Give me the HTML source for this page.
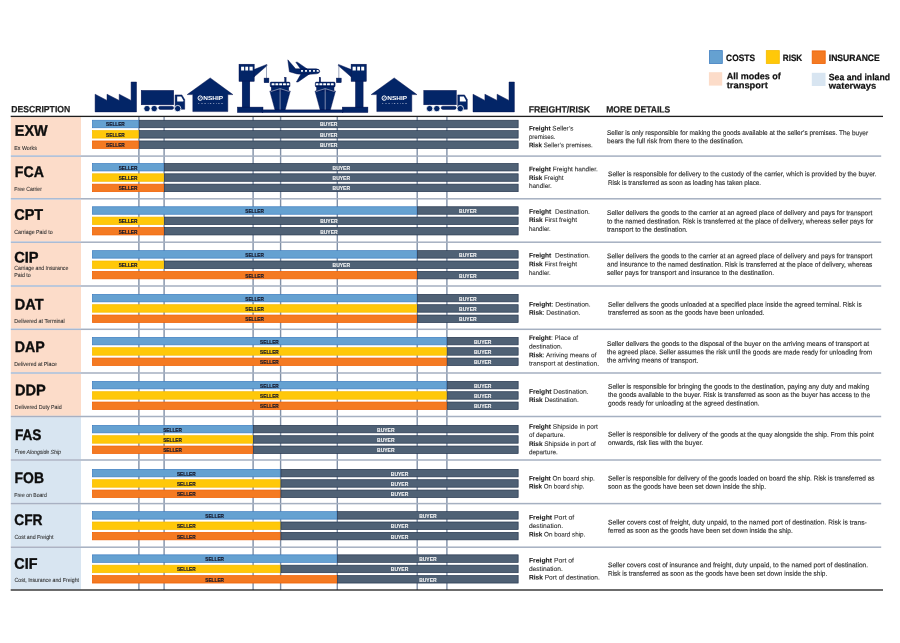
<!DOCTYPE html><html><head><meta charset="utf-8"><style>html,body{margin:0;padding:0;background:#fff;width:900px;height:643px;overflow:hidden}svg{display:block;will-change:transform}text{font-family:"Liberation Sans",sans-serif}</style></head><body>
<svg width="900" height="643" viewBox="0 0 900 643">
<rect width="900" height="643" fill="#fff" stroke="none"/>
<rect x="10.8" y="117.10" width="70.2" height="38.30" fill="#fcdcc9"/>
<rect x="10.8" y="156.80" width="70.2" height="41.30" fill="#fcdcc9"/>
<rect x="10.8" y="199.50" width="70.2" height="42.00" fill="#fcdcc9"/>
<rect x="10.8" y="242.90" width="70.2" height="42.40" fill="#fcdcc9"/>
<rect x="10.8" y="286.70" width="70.2" height="41.90" fill="#fcdcc9"/>
<rect x="10.8" y="330.00" width="70.2" height="42.30" fill="#fcdcc9"/>
<rect x="10.8" y="373.70" width="70.2" height="42.10" fill="#fcdcc9"/>
<rect x="10.8" y="417.20" width="70.2" height="42.10" fill="#d8e5f1"/>
<rect x="10.8" y="460.70" width="70.2" height="42.20" fill="#d8e5f1"/>
<rect x="10.8" y="504.30" width="70.2" height="42.20" fill="#d8e5f1"/>
<rect x="10.8" y="547.90" width="70.2" height="41.40" fill="#d8e5f1"/>
<rect x="138.20" y="116.40" width="1.4" height="473.60" fill="#8090a7"/>
<rect x="163.40" y="116.40" width="1.4" height="473.60" fill="#8090a7"/>
<rect x="252.40" y="116.40" width="1.4" height="473.60" fill="#8090a7"/>
<rect x="279.90" y="116.40" width="1.4" height="473.60" fill="#8090a7"/>
<rect x="336.60" y="116.40" width="1.4" height="473.60" fill="#8090a7"/>
<rect x="416.50" y="116.40" width="1.4" height="473.60" fill="#8090a7"/>
<rect x="446.20" y="116.40" width="1.4" height="473.60" fill="#8090a7"/>
<rect x="10.8" y="155.35" width="70.2" height="1.5" fill="#a6b9d3"/>
<rect x="81.0" y="155.35" width="800.2" height="1.5" fill="#a5b0c1"/>
<rect x="10.8" y="198.05" width="70.2" height="1.5" fill="#a6b9d3"/>
<rect x="81.0" y="198.05" width="800.2" height="1.5" fill="#a5b0c1"/>
<rect x="10.8" y="241.45" width="70.2" height="1.5" fill="#a6b9d3"/>
<rect x="81.0" y="241.45" width="800.2" height="1.5" fill="#a5b0c1"/>
<rect x="10.8" y="285.25" width="70.2" height="1.5" fill="#a6b9d3"/>
<rect x="81.0" y="285.25" width="800.2" height="1.5" fill="#a5b0c1"/>
<rect x="10.8" y="328.55" width="70.2" height="1.5" fill="#a6b9d3"/>
<rect x="81.0" y="328.55" width="800.2" height="1.5" fill="#a5b0c1"/>
<rect x="10.8" y="372.25" width="70.2" height="1.5" fill="#a6b9d3"/>
<rect x="81.0" y="372.25" width="800.2" height="1.5" fill="#a5b0c1"/>
<rect x="10.8" y="415.75" width="70.2" height="1.5" fill="#a8b0c2"/>
<rect x="81.0" y="415.75" width="800.2" height="1.5" fill="#a5b0c1"/>
<rect x="10.8" y="459.25" width="70.2" height="1.5" fill="#a8b0c2"/>
<rect x="81.0" y="459.25" width="800.2" height="1.5" fill="#a5b0c1"/>
<rect x="10.8" y="502.85" width="70.2" height="1.5" fill="#a8b0c2"/>
<rect x="81.0" y="502.85" width="800.2" height="1.5" fill="#a5b0c1"/>
<rect x="10.8" y="546.45" width="70.2" height="1.5" fill="#a8b0c2"/>
<rect x="81.0" y="546.45" width="800.2" height="1.5" fill="#a5b0c1"/>
<rect x="10.7" y="115.75" width="872.3" height="1.3" fill="#1e1e1e"/>
<rect x="10.7" y="589.35" width="872.3" height="1.3" fill="#1e1e1e"/>
<rect x="92.35" y="120.25" width="46.20" height="7.50" fill="#65a1d1" stroke="#3f7ec0" stroke-width="0.7"/>
<rect x="139.25" y="120.25" width="378.90" height="7.50" fill="#4f6175" stroke="#26374f" stroke-width="0.7"/>
<text x="106.10" y="126.40" font-size="5.6" stroke="#15172a" stroke-width="0.2" font-weight="bold" fill="#15172a" textLength="18.70" lengthAdjust="spacingAndGlyphs">SELLER</text>
<text x="319.95" y="126.40" font-size="5.6" stroke="#f4f4f4" stroke-width="0.12" font-weight="bold" fill="#f4f4f4" textLength="17.50" lengthAdjust="spacingAndGlyphs">BUYER</text>
<rect x="92.35" y="130.60" width="46.20" height="7.50" fill="#ffc809" stroke="#f6bb00" stroke-width="0.7"/>
<rect x="139.25" y="130.60" width="378.90" height="7.50" fill="#4f6175" stroke="#26374f" stroke-width="0.7"/>
<text x="106.10" y="136.75" font-size="5.6" stroke="#15172a" stroke-width="0.2" font-weight="bold" fill="#15172a" textLength="18.70" lengthAdjust="spacingAndGlyphs">SELLER</text>
<text x="319.95" y="136.75" font-size="5.6" stroke="#f4f4f4" stroke-width="0.12" font-weight="bold" fill="#f4f4f4" textLength="17.50" lengthAdjust="spacingAndGlyphs">BUYER</text>
<rect x="92.35" y="140.95" width="46.20" height="7.50" fill="#f47a22" stroke="#ef5f00" stroke-width="0.7"/>
<rect x="139.25" y="140.95" width="378.90" height="7.50" fill="#4f6175" stroke="#26374f" stroke-width="0.7"/>
<text x="106.10" y="147.10" font-size="5.6" stroke="#15172a" stroke-width="0.2" font-weight="bold" fill="#15172a" textLength="18.70" lengthAdjust="spacingAndGlyphs">SELLER</text>
<text x="319.95" y="147.10" font-size="5.6" stroke="#f4f4f4" stroke-width="0.12" font-weight="bold" fill="#f4f4f4" textLength="17.50" lengthAdjust="spacingAndGlyphs">BUYER</text>
<rect x="92.35" y="163.45" width="71.40" height="7.50" fill="#65a1d1" stroke="#3f7ec0" stroke-width="0.7"/>
<rect x="164.45" y="163.45" width="353.70" height="7.50" fill="#4f6175" stroke="#26374f" stroke-width="0.7"/>
<text x="118.70" y="169.60" font-size="5.6" stroke="#15172a" stroke-width="0.2" font-weight="bold" fill="#15172a" textLength="18.70" lengthAdjust="spacingAndGlyphs">SELLER</text>
<text x="332.55" y="169.60" font-size="5.6" stroke="#f4f4f4" stroke-width="0.12" font-weight="bold" fill="#f4f4f4" textLength="17.50" lengthAdjust="spacingAndGlyphs">BUYER</text>
<rect x="92.35" y="173.80" width="71.40" height="7.50" fill="#ffc809" stroke="#f6bb00" stroke-width="0.7"/>
<rect x="164.45" y="173.80" width="353.70" height="7.50" fill="#4f6175" stroke="#26374f" stroke-width="0.7"/>
<text x="118.70" y="179.95" font-size="5.6" stroke="#15172a" stroke-width="0.2" font-weight="bold" fill="#15172a" textLength="18.70" lengthAdjust="spacingAndGlyphs">SELLER</text>
<text x="332.55" y="179.95" font-size="5.6" stroke="#f4f4f4" stroke-width="0.12" font-weight="bold" fill="#f4f4f4" textLength="17.50" lengthAdjust="spacingAndGlyphs">BUYER</text>
<rect x="92.35" y="184.15" width="71.40" height="7.50" fill="#f47a22" stroke="#ef5f00" stroke-width="0.7"/>
<rect x="164.45" y="184.15" width="353.70" height="7.50" fill="#4f6175" stroke="#26374f" stroke-width="0.7"/>
<text x="118.70" y="190.30" font-size="5.6" stroke="#15172a" stroke-width="0.2" font-weight="bold" fill="#15172a" textLength="18.70" lengthAdjust="spacingAndGlyphs">SELLER</text>
<text x="332.55" y="190.30" font-size="5.6" stroke="#f4f4f4" stroke-width="0.12" font-weight="bold" fill="#f4f4f4" textLength="17.50" lengthAdjust="spacingAndGlyphs">BUYER</text>
<rect x="92.35" y="206.75" width="324.50" height="7.50" fill="#65a1d1" stroke="#3f7ec0" stroke-width="0.7"/>
<rect x="417.55" y="206.75" width="100.60" height="7.50" fill="#4f6175" stroke="#26374f" stroke-width="0.7"/>
<text x="245.25" y="212.90" font-size="5.6" stroke="#15172a" stroke-width="0.2" font-weight="bold" fill="#15172a" textLength="18.70" lengthAdjust="spacingAndGlyphs">SELLER</text>
<text x="459.10" y="212.90" font-size="5.6" stroke="#f4f4f4" stroke-width="0.12" font-weight="bold" fill="#f4f4f4" textLength="17.50" lengthAdjust="spacingAndGlyphs">BUYER</text>
<rect x="92.35" y="217.10" width="71.40" height="7.50" fill="#ffc809" stroke="#f6bb00" stroke-width="0.7"/>
<rect x="164.45" y="217.10" width="353.70" height="7.50" fill="#4f6175" stroke="#26374f" stroke-width="0.7"/>
<text x="118.70" y="223.25" font-size="5.6" stroke="#15172a" stroke-width="0.2" font-weight="bold" fill="#15172a" textLength="18.70" lengthAdjust="spacingAndGlyphs">SELLER</text>
<text x="320.15" y="223.25" font-size="5.6" stroke="#f4f4f4" stroke-width="0.12" font-weight="bold" fill="#f4f4f4" textLength="17.50" lengthAdjust="spacingAndGlyphs">BUYER</text>
<rect x="92.35" y="227.45" width="71.40" height="7.50" fill="#f47a22" stroke="#ef5f00" stroke-width="0.7"/>
<rect x="164.45" y="227.45" width="353.70" height="7.50" fill="#4f6175" stroke="#26374f" stroke-width="0.7"/>
<text x="118.70" y="233.60" font-size="5.6" stroke="#15172a" stroke-width="0.2" font-weight="bold" fill="#15172a" textLength="18.70" lengthAdjust="spacingAndGlyphs">SELLER</text>
<text x="320.15" y="233.60" font-size="5.6" stroke="#f4f4f4" stroke-width="0.12" font-weight="bold" fill="#f4f4f4" textLength="17.50" lengthAdjust="spacingAndGlyphs">BUYER</text>
<rect x="92.35" y="250.65" width="324.50" height="7.50" fill="#65a1d1" stroke="#3f7ec0" stroke-width="0.7"/>
<rect x="417.55" y="250.65" width="100.60" height="7.50" fill="#4f6175" stroke="#26374f" stroke-width="0.7"/>
<text x="245.25" y="256.80" font-size="5.6" stroke="#15172a" stroke-width="0.2" font-weight="bold" fill="#15172a" textLength="18.70" lengthAdjust="spacingAndGlyphs">SELLER</text>
<text x="459.10" y="256.80" font-size="5.6" stroke="#f4f4f4" stroke-width="0.12" font-weight="bold" fill="#f4f4f4" textLength="17.50" lengthAdjust="spacingAndGlyphs">BUYER</text>
<rect x="92.35" y="261.00" width="71.40" height="7.50" fill="#ffc809" stroke="#f6bb00" stroke-width="0.7"/>
<rect x="164.45" y="261.00" width="353.70" height="7.50" fill="#4f6175" stroke="#26374f" stroke-width="0.7"/>
<text x="118.70" y="267.15" font-size="5.6" stroke="#15172a" stroke-width="0.2" font-weight="bold" fill="#15172a" textLength="18.70" lengthAdjust="spacingAndGlyphs">SELLER</text>
<text x="332.55" y="267.15" font-size="5.6" stroke="#f4f4f4" stroke-width="0.12" font-weight="bold" fill="#f4f4f4" textLength="17.50" lengthAdjust="spacingAndGlyphs">BUYER</text>
<rect x="92.35" y="271.35" width="324.50" height="7.50" fill="#f47a22" stroke="#ef5f00" stroke-width="0.7"/>
<rect x="417.55" y="271.35" width="100.60" height="7.50" fill="#4f6175" stroke="#26374f" stroke-width="0.7"/>
<text x="245.25" y="277.50" font-size="5.6" stroke="#15172a" stroke-width="0.2" font-weight="bold" fill="#15172a" textLength="18.70" lengthAdjust="spacingAndGlyphs">SELLER</text>
<text x="459.10" y="277.50" font-size="5.6" stroke="#f4f4f4" stroke-width="0.12" font-weight="bold" fill="#f4f4f4" textLength="17.50" lengthAdjust="spacingAndGlyphs">BUYER</text>
<rect x="92.35" y="294.35" width="324.50" height="7.50" fill="#65a1d1" stroke="#3f7ec0" stroke-width="0.7"/>
<rect x="417.55" y="294.35" width="100.60" height="7.50" fill="#4f6175" stroke="#26374f" stroke-width="0.7"/>
<text x="245.25" y="300.50" font-size="5.6" stroke="#15172a" stroke-width="0.2" font-weight="bold" fill="#15172a" textLength="18.70" lengthAdjust="spacingAndGlyphs">SELLER</text>
<text x="459.10" y="300.50" font-size="5.6" stroke="#f4f4f4" stroke-width="0.12" font-weight="bold" fill="#f4f4f4" textLength="17.50" lengthAdjust="spacingAndGlyphs">BUYER</text>
<rect x="92.35" y="304.70" width="324.50" height="7.50" fill="#ffc809" stroke="#f6bb00" stroke-width="0.7"/>
<rect x="417.55" y="304.70" width="100.60" height="7.50" fill="#4f6175" stroke="#26374f" stroke-width="0.7"/>
<text x="245.25" y="310.85" font-size="5.6" stroke="#15172a" stroke-width="0.2" font-weight="bold" fill="#15172a" textLength="18.70" lengthAdjust="spacingAndGlyphs">SELLER</text>
<text x="459.10" y="310.85" font-size="5.6" stroke="#f4f4f4" stroke-width="0.12" font-weight="bold" fill="#f4f4f4" textLength="17.50" lengthAdjust="spacingAndGlyphs">BUYER</text>
<rect x="92.35" y="315.05" width="324.50" height="7.50" fill="#f47a22" stroke="#ef5f00" stroke-width="0.7"/>
<rect x="417.55" y="315.05" width="100.60" height="7.50" fill="#4f6175" stroke="#26374f" stroke-width="0.7"/>
<text x="245.25" y="321.20" font-size="5.6" stroke="#15172a" stroke-width="0.2" font-weight="bold" fill="#15172a" textLength="18.70" lengthAdjust="spacingAndGlyphs">SELLER</text>
<text x="459.10" y="321.20" font-size="5.6" stroke="#f4f4f4" stroke-width="0.12" font-weight="bold" fill="#f4f4f4" textLength="17.50" lengthAdjust="spacingAndGlyphs">BUYER</text>
<rect x="92.35" y="337.35" width="354.20" height="7.50" fill="#65a1d1" stroke="#3f7ec0" stroke-width="0.7"/>
<rect x="447.25" y="337.35" width="70.90" height="7.50" fill="#4f6175" stroke="#26374f" stroke-width="0.7"/>
<text x="260.10" y="343.50" font-size="5.6" stroke="#15172a" stroke-width="0.2" font-weight="bold" fill="#15172a" textLength="18.70" lengthAdjust="spacingAndGlyphs">SELLER</text>
<text x="473.95" y="343.50" font-size="5.6" stroke="#f4f4f4" stroke-width="0.12" font-weight="bold" fill="#f4f4f4" textLength="17.50" lengthAdjust="spacingAndGlyphs">BUYER</text>
<rect x="92.35" y="347.70" width="354.20" height="7.50" fill="#ffc809" stroke="#f6bb00" stroke-width="0.7"/>
<rect x="447.25" y="347.70" width="70.90" height="7.50" fill="#4f6175" stroke="#26374f" stroke-width="0.7"/>
<text x="260.10" y="353.85" font-size="5.6" stroke="#15172a" stroke-width="0.2" font-weight="bold" fill="#15172a" textLength="18.70" lengthAdjust="spacingAndGlyphs">SELLER</text>
<text x="473.95" y="353.85" font-size="5.6" stroke="#f4f4f4" stroke-width="0.12" font-weight="bold" fill="#f4f4f4" textLength="17.50" lengthAdjust="spacingAndGlyphs">BUYER</text>
<rect x="92.35" y="358.05" width="354.20" height="7.50" fill="#f47a22" stroke="#ef5f00" stroke-width="0.7"/>
<rect x="447.25" y="358.05" width="70.90" height="7.50" fill="#4f6175" stroke="#26374f" stroke-width="0.7"/>
<text x="260.10" y="364.20" font-size="5.6" stroke="#15172a" stroke-width="0.2" font-weight="bold" fill="#15172a" textLength="18.70" lengthAdjust="spacingAndGlyphs">SELLER</text>
<text x="473.95" y="364.20" font-size="5.6" stroke="#f4f4f4" stroke-width="0.12" font-weight="bold" fill="#f4f4f4" textLength="17.50" lengthAdjust="spacingAndGlyphs">BUYER</text>
<rect x="92.35" y="381.35" width="354.20" height="7.50" fill="#65a1d1" stroke="#3f7ec0" stroke-width="0.7"/>
<rect x="447.25" y="381.35" width="70.90" height="7.50" fill="#4f6175" stroke="#26374f" stroke-width="0.7"/>
<text x="260.10" y="387.50" font-size="5.6" stroke="#15172a" stroke-width="0.2" font-weight="bold" fill="#15172a" textLength="18.70" lengthAdjust="spacingAndGlyphs">SELLER</text>
<text x="473.95" y="387.50" font-size="5.6" stroke="#f4f4f4" stroke-width="0.12" font-weight="bold" fill="#f4f4f4" textLength="17.50" lengthAdjust="spacingAndGlyphs">BUYER</text>
<rect x="92.35" y="391.70" width="354.20" height="7.50" fill="#ffc809" stroke="#f6bb00" stroke-width="0.7"/>
<rect x="447.25" y="391.70" width="70.90" height="7.50" fill="#4f6175" stroke="#26374f" stroke-width="0.7"/>
<text x="260.10" y="397.85" font-size="5.6" stroke="#15172a" stroke-width="0.2" font-weight="bold" fill="#15172a" textLength="18.70" lengthAdjust="spacingAndGlyphs">SELLER</text>
<text x="473.95" y="397.85" font-size="5.6" stroke="#f4f4f4" stroke-width="0.12" font-weight="bold" fill="#f4f4f4" textLength="17.50" lengthAdjust="spacingAndGlyphs">BUYER</text>
<rect x="92.35" y="402.05" width="354.20" height="7.50" fill="#f47a22" stroke="#ef5f00" stroke-width="0.7"/>
<rect x="447.25" y="402.05" width="70.90" height="7.50" fill="#4f6175" stroke="#26374f" stroke-width="0.7"/>
<text x="260.10" y="408.20" font-size="5.6" stroke="#15172a" stroke-width="0.2" font-weight="bold" fill="#15172a" textLength="18.70" lengthAdjust="spacingAndGlyphs">SELLER</text>
<text x="473.95" y="408.20" font-size="5.6" stroke="#f4f4f4" stroke-width="0.12" font-weight="bold" fill="#f4f4f4" textLength="17.50" lengthAdjust="spacingAndGlyphs">BUYER</text>
<rect x="92.35" y="425.35" width="160.40" height="7.50" fill="#65a1d1" stroke="#3f7ec0" stroke-width="0.7"/>
<rect x="253.45" y="425.35" width="264.70" height="7.50" fill="#4f6175" stroke="#26374f" stroke-width="0.7"/>
<text x="163.20" y="431.50" font-size="5.6" stroke="#15172a" stroke-width="0.2" font-weight="bold" fill="#15172a" textLength="18.70" lengthAdjust="spacingAndGlyphs">SELLER</text>
<text x="377.05" y="431.50" font-size="5.6" stroke="#f4f4f4" stroke-width="0.12" font-weight="bold" fill="#f4f4f4" textLength="17.50" lengthAdjust="spacingAndGlyphs">BUYER</text>
<rect x="92.35" y="435.70" width="160.40" height="7.50" fill="#ffc809" stroke="#f6bb00" stroke-width="0.7"/>
<rect x="253.45" y="435.70" width="264.70" height="7.50" fill="#4f6175" stroke="#26374f" stroke-width="0.7"/>
<text x="163.20" y="441.85" font-size="5.6" stroke="#15172a" stroke-width="0.2" font-weight="bold" fill="#15172a" textLength="18.70" lengthAdjust="spacingAndGlyphs">SELLER</text>
<text x="377.05" y="441.85" font-size="5.6" stroke="#f4f4f4" stroke-width="0.12" font-weight="bold" fill="#f4f4f4" textLength="17.50" lengthAdjust="spacingAndGlyphs">BUYER</text>
<rect x="92.35" y="446.05" width="160.40" height="7.50" fill="#f47a22" stroke="#ef5f00" stroke-width="0.7"/>
<rect x="253.45" y="446.05" width="264.70" height="7.50" fill="#4f6175" stroke="#26374f" stroke-width="0.7"/>
<text x="163.20" y="452.20" font-size="5.6" stroke="#15172a" stroke-width="0.2" font-weight="bold" fill="#15172a" textLength="18.70" lengthAdjust="spacingAndGlyphs">SELLER</text>
<text x="377.05" y="452.20" font-size="5.6" stroke="#f4f4f4" stroke-width="0.12" font-weight="bold" fill="#f4f4f4" textLength="17.50" lengthAdjust="spacingAndGlyphs">BUYER</text>
<rect x="92.35" y="469.35" width="187.90" height="7.50" fill="#65a1d1" stroke="#3f7ec0" stroke-width="0.7"/>
<rect x="280.95" y="469.35" width="237.20" height="7.50" fill="#4f6175" stroke="#26374f" stroke-width="0.7"/>
<text x="176.95" y="475.50" font-size="5.6" stroke="#15172a" stroke-width="0.2" font-weight="bold" fill="#15172a" textLength="18.70" lengthAdjust="spacingAndGlyphs">SELLER</text>
<text x="390.80" y="475.50" font-size="5.6" stroke="#f4f4f4" stroke-width="0.12" font-weight="bold" fill="#f4f4f4" textLength="17.50" lengthAdjust="spacingAndGlyphs">BUYER</text>
<rect x="92.35" y="479.70" width="187.90" height="7.50" fill="#ffc809" stroke="#f6bb00" stroke-width="0.7"/>
<rect x="280.95" y="479.70" width="237.20" height="7.50" fill="#4f6175" stroke="#26374f" stroke-width="0.7"/>
<text x="176.95" y="485.85" font-size="5.6" stroke="#15172a" stroke-width="0.2" font-weight="bold" fill="#15172a" textLength="18.70" lengthAdjust="spacingAndGlyphs">SELLER</text>
<text x="390.80" y="485.85" font-size="5.6" stroke="#f4f4f4" stroke-width="0.12" font-weight="bold" fill="#f4f4f4" textLength="17.50" lengthAdjust="spacingAndGlyphs">BUYER</text>
<rect x="92.35" y="490.05" width="187.90" height="7.50" fill="#f47a22" stroke="#ef5f00" stroke-width="0.7"/>
<rect x="280.95" y="490.05" width="237.20" height="7.50" fill="#4f6175" stroke="#26374f" stroke-width="0.7"/>
<text x="176.95" y="496.20" font-size="5.6" stroke="#15172a" stroke-width="0.2" font-weight="bold" fill="#15172a" textLength="18.70" lengthAdjust="spacingAndGlyphs">SELLER</text>
<text x="390.80" y="496.20" font-size="5.6" stroke="#f4f4f4" stroke-width="0.12" font-weight="bold" fill="#f4f4f4" textLength="17.50" lengthAdjust="spacingAndGlyphs">BUYER</text>
<rect x="92.35" y="511.65" width="244.60" height="7.50" fill="#65a1d1" stroke="#3f7ec0" stroke-width="0.7"/>
<rect x="337.65" y="511.65" width="180.50" height="7.50" fill="#4f6175" stroke="#26374f" stroke-width="0.7"/>
<text x="205.30" y="517.80" font-size="5.6" stroke="#15172a" stroke-width="0.2" font-weight="bold" fill="#15172a" textLength="18.70" lengthAdjust="spacingAndGlyphs">SELLER</text>
<text x="419.15" y="517.80" font-size="5.6" stroke="#f4f4f4" stroke-width="0.12" font-weight="bold" fill="#f4f4f4" textLength="17.50" lengthAdjust="spacingAndGlyphs">BUYER</text>
<rect x="92.35" y="522.00" width="187.90" height="7.50" fill="#ffc809" stroke="#f6bb00" stroke-width="0.7"/>
<rect x="280.95" y="522.00" width="237.20" height="7.50" fill="#4f6175" stroke="#26374f" stroke-width="0.7"/>
<text x="176.95" y="528.15" font-size="5.6" stroke="#15172a" stroke-width="0.2" font-weight="bold" fill="#15172a" textLength="18.70" lengthAdjust="spacingAndGlyphs">SELLER</text>
<text x="390.80" y="528.15" font-size="5.6" stroke="#f4f4f4" stroke-width="0.12" font-weight="bold" fill="#f4f4f4" textLength="17.50" lengthAdjust="spacingAndGlyphs">BUYER</text>
<rect x="92.35" y="532.35" width="187.90" height="7.50" fill="#f47a22" stroke="#ef5f00" stroke-width="0.7"/>
<rect x="280.95" y="532.35" width="237.20" height="7.50" fill="#4f6175" stroke="#26374f" stroke-width="0.7"/>
<text x="176.95" y="538.50" font-size="5.6" stroke="#15172a" stroke-width="0.2" font-weight="bold" fill="#15172a" textLength="18.70" lengthAdjust="spacingAndGlyphs">SELLER</text>
<text x="390.80" y="538.50" font-size="5.6" stroke="#f4f4f4" stroke-width="0.12" font-weight="bold" fill="#f4f4f4" textLength="17.50" lengthAdjust="spacingAndGlyphs">BUYER</text>
<rect x="92.35" y="554.85" width="244.60" height="7.50" fill="#65a1d1" stroke="#3f7ec0" stroke-width="0.7"/>
<rect x="337.65" y="554.85" width="180.50" height="7.50" fill="#4f6175" stroke="#26374f" stroke-width="0.7"/>
<text x="205.30" y="561.00" font-size="5.6" stroke="#15172a" stroke-width="0.2" font-weight="bold" fill="#15172a" textLength="18.70" lengthAdjust="spacingAndGlyphs">SELLER</text>
<text x="419.15" y="561.00" font-size="5.6" stroke="#f4f4f4" stroke-width="0.12" font-weight="bold" fill="#f4f4f4" textLength="17.50" lengthAdjust="spacingAndGlyphs">BUYER</text>
<rect x="92.35" y="565.20" width="187.90" height="7.50" fill="#ffc809" stroke="#f6bb00" stroke-width="0.7"/>
<rect x="280.95" y="565.20" width="237.20" height="7.50" fill="#4f6175" stroke="#26374f" stroke-width="0.7"/>
<text x="176.95" y="571.35" font-size="5.6" stroke="#15172a" stroke-width="0.2" font-weight="bold" fill="#15172a" textLength="18.70" lengthAdjust="spacingAndGlyphs">SELLER</text>
<text x="390.80" y="571.35" font-size="5.6" stroke="#f4f4f4" stroke-width="0.12" font-weight="bold" fill="#f4f4f4" textLength="17.50" lengthAdjust="spacingAndGlyphs">BUYER</text>
<rect x="92.35" y="575.55" width="244.60" height="7.50" fill="#f47a22" stroke="#ef5f00" stroke-width="0.7"/>
<rect x="337.65" y="575.55" width="180.50" height="7.50" fill="#4f6175" stroke="#26374f" stroke-width="0.7"/>
<text x="205.30" y="581.70" font-size="5.6" stroke="#15172a" stroke-width="0.2" font-weight="bold" fill="#15172a" textLength="18.70" lengthAdjust="spacingAndGlyphs">SELLER</text>
<text x="419.15" y="581.70" font-size="5.6" stroke="#f4f4f4" stroke-width="0.12" font-weight="bold" fill="#f4f4f4" textLength="17.50" lengthAdjust="spacingAndGlyphs">BUYER</text>
<text x="11.25" y="112.30" font-size="9" transform="rotate(0.03,11.25,112.30)" stroke="#1e1e1e" stroke-width="0.2" font-weight="bold" fill="#1e1e1e" textLength="59.00" lengthAdjust="spacingAndGlyphs">DESCRIPTION</text>
<text x="528.70" y="112.50" font-size="9" transform="rotate(0.03,528.70,112.50)" stroke="#1e1e1e" stroke-width="0.2" font-weight="bold" fill="#1e1e1e" textLength="61.30" lengthAdjust="spacingAndGlyphs">FREIGHT/RISK</text>
<text x="606.20" y="112.50" font-size="9" transform="rotate(0.03,606.20,112.50)" stroke="#1e1e1e" stroke-width="0.2" font-weight="bold" fill="#1e1e1e" textLength="64.10" lengthAdjust="spacingAndGlyphs">MORE DETAILS</text>
<text x="14.80" y="135.70" font-size="15.3" transform="rotate(0.03,14.80,135.70)" stroke="#0d0d0d" stroke-width="0.35" font-weight="bold" fill="#0d0d0d" textLength="32.90" lengthAdjust="spacingAndGlyphs">EXW</text>
<text x="14.80" y="176.70" font-size="15.3" transform="rotate(0.03,14.80,176.70)" stroke="#0d0d0d" stroke-width="0.35" font-weight="bold" fill="#0d0d0d" textLength="29.10" lengthAdjust="spacingAndGlyphs">FCA</text>
<text x="14.30" y="219.80" font-size="15.3" transform="rotate(0.03,14.30,219.80)" stroke="#0d0d0d" stroke-width="0.35" font-weight="bold" fill="#0d0d0d" textLength="28.90" lengthAdjust="spacingAndGlyphs">CPT</text>
<text x="14.30" y="262.60" font-size="15.3" transform="rotate(0.03,14.30,262.60)" stroke="#0d0d0d" stroke-width="0.35" font-weight="bold" fill="#0d0d0d" textLength="24.30" lengthAdjust="spacingAndGlyphs">CIP</text>
<text x="14.80" y="309.60" font-size="15.3" transform="rotate(0.03,14.80,309.60)" stroke="#0d0d0d" stroke-width="0.35" font-weight="bold" fill="#0d0d0d" textLength="28.80" lengthAdjust="spacingAndGlyphs">DAT</text>
<text x="14.80" y="352.20" font-size="15.3" transform="rotate(0.03,14.80,352.20)" stroke="#0d0d0d" stroke-width="0.35" font-weight="bold" fill="#0d0d0d" textLength="30.00" lengthAdjust="spacingAndGlyphs">DAP</text>
<text x="14.90" y="395.20" font-size="15.3" transform="rotate(0.03,14.90,395.20)" stroke="#0d0d0d" stroke-width="0.35" font-weight="bold" fill="#0d0d0d" textLength="30.80" lengthAdjust="spacingAndGlyphs">DDP</text>
<text x="14.90" y="439.90" font-size="15.3" transform="rotate(0.03,14.90,439.90)" stroke="#0d0d0d" stroke-width="0.35" font-weight="bold" fill="#0d0d0d" textLength="26.60" lengthAdjust="spacingAndGlyphs">FAS</text>
<text x="14.60" y="482.90" font-size="15.3" transform="rotate(0.03,14.60,482.90)" stroke="#0d0d0d" stroke-width="0.35" font-weight="bold" fill="#0d0d0d" textLength="29.40" lengthAdjust="spacingAndGlyphs">FOB</text>
<text x="14.30" y="525.00" font-size="15.3" transform="rotate(0.03,14.30,525.00)" stroke="#0d0d0d" stroke-width="0.35" font-weight="bold" fill="#0d0d0d" textLength="28.20" lengthAdjust="spacingAndGlyphs">CFR</text>
<text x="14.30" y="568.80" font-size="15.3" transform="rotate(0.03,14.30,568.80)" stroke="#0d0d0d" stroke-width="0.35" font-weight="bold" fill="#0d0d0d" textLength="23.10" lengthAdjust="spacingAndGlyphs">CIF</text>
<text x="14.30" y="149.70" font-size="5.9" transform="rotate(0.03,14.30,149.70)" stroke="#2e2e2e" stroke-width="0.08" fill="#2e2e2e" textLength="22.50" lengthAdjust="spacingAndGlyphs">Ex Works</text>
<text x="14.30" y="190.50" font-size="5.9" transform="rotate(0.03,14.30,190.50)" stroke="#2e2e2e" stroke-width="0.08" fill="#2e2e2e" textLength="27.60" lengthAdjust="spacingAndGlyphs">Free Carrier</text>
<text x="14.30" y="233.60" font-size="5.9" transform="rotate(0.03,14.30,233.60)" stroke="#2e2e2e" stroke-width="0.08" fill="#2e2e2e" textLength="38.30" lengthAdjust="spacingAndGlyphs">Carriage Paid to</text>
<text x="14.30" y="270.40" font-size="5.9" transform="rotate(0.03,14.30,270.40)" stroke="#2e2e2e" stroke-width="0.08" fill="#2e2e2e" textLength="54.00" lengthAdjust="spacingAndGlyphs">Carriage and Insurance</text>
<text x="14.30" y="277.10" font-size="5.9" transform="rotate(0.03,14.30,277.10)" stroke="#2e2e2e" stroke-width="0.08" fill="#2e2e2e" textLength="16.50" lengthAdjust="spacingAndGlyphs">Paid to</text>
<text x="14.30" y="323.20" font-size="5.9" transform="rotate(0.03,14.30,323.20)" stroke="#2e2e2e" stroke-width="0.08" fill="#2e2e2e" textLength="50.50" lengthAdjust="spacingAndGlyphs">Delivered at Terminal</text>
<text x="14.30" y="366.20" font-size="5.9" transform="rotate(0.03,14.30,366.20)" stroke="#2e2e2e" stroke-width="0.08" fill="#2e2e2e" textLength="42.70" lengthAdjust="spacingAndGlyphs">Delivered at Place</text>
<text x="14.80" y="409.00" font-size="5.9" transform="rotate(0.03,14.80,409.00)" stroke="#2e2e2e" stroke-width="0.08" fill="#2e2e2e" textLength="46.90" lengthAdjust="spacingAndGlyphs">Delivered Duty Paid</text>
<text x="14.80" y="453.50" font-size="5.9" transform="rotate(0.03,14.80,453.50)" stroke="#2e2e2e" stroke-width="0.08" fill="#2e2e2e" textLength="46.10" lengthAdjust="spacingAndGlyphs" font-style="italic">Free Alongside Ship</text>
<text x="14.30" y="496.80" font-size="5.9" transform="rotate(0.03,14.30,496.80)" stroke="#2e2e2e" stroke-width="0.08" fill="#2e2e2e" textLength="32.60" lengthAdjust="spacingAndGlyphs">Free on Board</text>
<text x="14.50" y="538.60" font-size="5.9" transform="rotate(0.03,14.50,538.60)" stroke="#2e2e2e" stroke-width="0.08" fill="#2e2e2e" textLength="39.00" lengthAdjust="spacingAndGlyphs">Cost and Freight</text>
<text x="14.50" y="582.20" font-size="5.9" transform="rotate(0.03,14.50,582.20)" stroke="#2e2e2e" stroke-width="0.08" fill="#2e2e2e" textLength="64.50" lengthAdjust="spacingAndGlyphs">Cost, Insurance and Freight</text>
<text x="528.90" y="130.40" transform="rotate(0.03,528.90,130.40)" font-size="6.6" fill="#2a2a2a" stroke="#2a2a2a" stroke-width="0.08" textLength="44.60" lengthAdjust="spacingAndGlyphs" xml:space="preserve"><tspan font-weight="bold" fill="#1a1a1a">Freight</tspan> Seller’s</text>
<text x="528.90" y="138.50" transform="rotate(0.03,528.90,138.50)" font-size="6.6" fill="#2a2a2a" stroke="#2a2a2a" stroke-width="0.08" textLength="26.60" lengthAdjust="spacingAndGlyphs" xml:space="preserve">premises.</text>
<text x="528.90" y="147.30" transform="rotate(0.03,528.90,147.30)" font-size="6.6" fill="#2a2a2a" stroke="#2a2a2a" stroke-width="0.08" textLength="63.90" lengthAdjust="spacingAndGlyphs" xml:space="preserve"><tspan font-weight="bold" fill="#1a1a1a">Risk</tspan> Seller’s premises.</text>
<text x="528.90" y="171.30" transform="rotate(0.03,528.90,171.30)" font-size="6.6" fill="#2a2a2a" stroke="#2a2a2a" stroke-width="0.08" textLength="68.90" lengthAdjust="spacingAndGlyphs" xml:space="preserve"><tspan font-weight="bold" fill="#1a1a1a">Freight</tspan> Freight handler.</text>
<text x="528.90" y="179.90" transform="rotate(0.03,528.90,179.90)" font-size="6.6" fill="#2a2a2a" stroke="#2a2a2a" stroke-width="0.08" textLength="34.70" lengthAdjust="spacingAndGlyphs" xml:space="preserve"><tspan font-weight="bold" fill="#1a1a1a">Risk</tspan> Freight</text>
<text x="528.90" y="188.10" transform="rotate(0.03,528.90,188.10)" font-size="6.6" fill="#2a2a2a" stroke="#2a2a2a" stroke-width="0.08" textLength="22.90" lengthAdjust="spacingAndGlyphs" xml:space="preserve">handler.</text>
<text x="528.90" y="213.80" transform="rotate(0.03,528.90,213.80)" font-size="6.6" fill="#2a2a2a" stroke="#2a2a2a" stroke-width="0.08" textLength="61.00" lengthAdjust="spacingAndGlyphs" xml:space="preserve"><tspan font-weight="bold" fill="#1a1a1a">Freight</tspan>  Destination.</text>
<text x="528.90" y="222.10" transform="rotate(0.03,528.90,222.10)" font-size="6.6" fill="#2a2a2a" stroke="#2a2a2a" stroke-width="0.08" textLength="48.30" lengthAdjust="spacingAndGlyphs" xml:space="preserve"><tspan font-weight="bold" fill="#1a1a1a">Risk</tspan> First freight</text>
<text x="528.90" y="230.50" transform="rotate(0.03,528.90,230.50)" font-size="6.6" fill="#2a2a2a" stroke="#2a2a2a" stroke-width="0.08" textLength="21.80" lengthAdjust="spacingAndGlyphs" xml:space="preserve">handler.</text>
<text x="528.90" y="257.50" transform="rotate(0.03,528.90,257.50)" font-size="6.6" fill="#2a2a2a" stroke="#2a2a2a" stroke-width="0.08" textLength="61.00" lengthAdjust="spacingAndGlyphs" xml:space="preserve"><tspan font-weight="bold" fill="#1a1a1a">Freight</tspan>  Destination.</text>
<text x="528.90" y="266.20" transform="rotate(0.03,528.90,266.20)" font-size="6.6" fill="#2a2a2a" stroke="#2a2a2a" stroke-width="0.08" textLength="48.30" lengthAdjust="spacingAndGlyphs" xml:space="preserve"><tspan font-weight="bold" fill="#1a1a1a">Risk</tspan> First freight</text>
<text x="528.90" y="274.60" transform="rotate(0.03,528.90,274.60)" font-size="6.6" fill="#2a2a2a" stroke="#2a2a2a" stroke-width="0.08" textLength="21.80" lengthAdjust="spacingAndGlyphs" xml:space="preserve">handler.</text>
<text x="528.90" y="306.40" transform="rotate(0.03,528.90,306.40)" font-size="6.6" fill="#2a2a2a" stroke="#2a2a2a" stroke-width="0.08" textLength="61.60" lengthAdjust="spacingAndGlyphs" xml:space="preserve"><tspan font-weight="bold" fill="#1a1a1a">Freight</tspan>: Destination.</text>
<text x="528.90" y="314.70" transform="rotate(0.03,528.90,314.70)" font-size="6.6" fill="#2a2a2a" stroke="#2a2a2a" stroke-width="0.08" textLength="51.60" lengthAdjust="spacingAndGlyphs" xml:space="preserve"><tspan font-weight="bold" fill="#1a1a1a">Risk</tspan>: Destination.</text>
<text x="528.90" y="340.10" transform="rotate(0.03,528.90,340.10)" font-size="6.6" fill="#2a2a2a" stroke="#2a2a2a" stroke-width="0.08" textLength="49.30" lengthAdjust="spacingAndGlyphs" xml:space="preserve"><tspan font-weight="bold" fill="#1a1a1a">Freight</tspan>: Place of</text>
<text x="528.90" y="348.50" transform="rotate(0.03,528.90,348.50)" font-size="6.6" fill="#2a2a2a" stroke="#2a2a2a" stroke-width="0.08" textLength="33.50" lengthAdjust="spacingAndGlyphs" xml:space="preserve">destination.</text>
<text x="528.90" y="357.20" transform="rotate(0.03,528.90,357.20)" font-size="6.6" fill="#2a2a2a" stroke="#2a2a2a" stroke-width="0.08" textLength="67.60" lengthAdjust="spacingAndGlyphs" xml:space="preserve"><tspan font-weight="bold" fill="#1a1a1a">Risk</tspan>: Arriving means of</text>
<text x="528.90" y="365.60" transform="rotate(0.03,528.90,365.60)" font-size="6.6" fill="#2a2a2a" stroke="#2a2a2a" stroke-width="0.08" textLength="70.30" lengthAdjust="spacingAndGlyphs" xml:space="preserve">transport at destination.</text>
<text x="528.90" y="393.80" transform="rotate(0.03,528.90,393.80)" font-size="6.6" fill="#2a2a2a" stroke="#2a2a2a" stroke-width="0.08" textLength="59.60" lengthAdjust="spacingAndGlyphs" xml:space="preserve"><tspan font-weight="bold" fill="#1a1a1a">Freight</tspan> Destination.</text>
<text x="528.90" y="402.10" transform="rotate(0.03,528.90,402.10)" font-size="6.6" fill="#2a2a2a" stroke="#2a2a2a" stroke-width="0.08" textLength="49.90" lengthAdjust="spacingAndGlyphs" xml:space="preserve"><tspan font-weight="bold" fill="#1a1a1a">Risk</tspan> Destination.</text>
<text x="528.90" y="428.80" transform="rotate(0.03,528.90,428.80)" font-size="6.6" fill="#2a2a2a" stroke="#2a2a2a" stroke-width="0.08" textLength="69.00" lengthAdjust="spacingAndGlyphs" xml:space="preserve"><tspan font-weight="bold" fill="#1a1a1a">Freight</tspan> Shipside in port</text>
<text x="528.90" y="437.10" transform="rotate(0.03,528.90,437.10)" font-size="6.6" fill="#2a2a2a" stroke="#2a2a2a" stroke-width="0.08" textLength="36.20" lengthAdjust="spacingAndGlyphs" xml:space="preserve">of departure.</text>
<text x="528.90" y="446.00" transform="rotate(0.03,528.90,446.00)" font-size="6.6" fill="#2a2a2a" stroke="#2a2a2a" stroke-width="0.08" textLength="67.00" lengthAdjust="spacingAndGlyphs" xml:space="preserve"><tspan font-weight="bold" fill="#1a1a1a">Risk</tspan> Shipside in port of</text>
<text x="528.90" y="454.20" transform="rotate(0.03,528.90,454.20)" font-size="6.6" fill="#2a2a2a" stroke="#2a2a2a" stroke-width="0.08" textLength="28.90" lengthAdjust="spacingAndGlyphs" xml:space="preserve">departure.</text>
<text x="528.90" y="480.40" transform="rotate(0.03,528.90,480.40)" font-size="6.6" fill="#2a2a2a" stroke="#2a2a2a" stroke-width="0.08" textLength="65.90" lengthAdjust="spacingAndGlyphs" xml:space="preserve"><tspan font-weight="bold" fill="#1a1a1a">Freight</tspan> On board ship.</text>
<text x="528.90" y="488.40" transform="rotate(0.03,528.90,488.40)" font-size="6.6" fill="#2a2a2a" stroke="#2a2a2a" stroke-width="0.08" textLength="55.60" lengthAdjust="spacingAndGlyphs" xml:space="preserve"><tspan font-weight="bold" fill="#1a1a1a">Risk</tspan> On board ship.</text>
<text x="528.90" y="519.40" transform="rotate(0.03,528.90,519.40)" font-size="6.6" fill="#2a2a2a" stroke="#2a2a2a" stroke-width="0.08" textLength="45.30" lengthAdjust="spacingAndGlyphs" xml:space="preserve"><tspan font-weight="bold" fill="#1a1a1a">Freight</tspan> Port of</text>
<text x="528.90" y="527.90" transform="rotate(0.03,528.90,527.90)" font-size="6.6" fill="#2a2a2a" stroke="#2a2a2a" stroke-width="0.08" textLength="34.20" lengthAdjust="spacingAndGlyphs" xml:space="preserve">destination.</text>
<text x="528.90" y="536.60" transform="rotate(0.03,528.90,536.60)" font-size="6.6" fill="#2a2a2a" stroke="#2a2a2a" stroke-width="0.08" textLength="56.50" lengthAdjust="spacingAndGlyphs" xml:space="preserve"><tspan font-weight="bold" fill="#1a1a1a">Risk</tspan> On board ship.</text>
<text x="528.90" y="562.50" transform="rotate(0.03,528.90,562.50)" font-size="6.6" fill="#2a2a2a" stroke="#2a2a2a" stroke-width="0.08" textLength="45.10" lengthAdjust="spacingAndGlyphs" xml:space="preserve"><tspan font-weight="bold" fill="#1a1a1a">Freight</tspan> Port of</text>
<text x="528.90" y="571.00" transform="rotate(0.03,528.90,571.00)" font-size="6.6" fill="#2a2a2a" stroke="#2a2a2a" stroke-width="0.08" textLength="33.90" lengthAdjust="spacingAndGlyphs" xml:space="preserve">destination.</text>
<text x="528.90" y="579.50" transform="rotate(0.03,528.90,579.50)" font-size="6.6" fill="#2a2a2a" stroke="#2a2a2a" stroke-width="0.08" textLength="70.90" lengthAdjust="spacingAndGlyphs" xml:space="preserve"><tspan font-weight="bold" fill="#1a1a1a">Risk</tspan> Port of destination.</text>
<text x="607.00" y="135.00" font-size="6.8" transform="rotate(0.03,607.00,135.00)" stroke="#262626" stroke-width="0.1" fill="#262626" textLength="261.10" lengthAdjust="spacingAndGlyphs">Seller is only responsible for making the goods available at the seller’s premises. The buyer</text>
<text x="607.00" y="143.20" font-size="6.8" transform="rotate(0.03,607.00,143.20)" stroke="#262626" stroke-width="0.1" fill="#262626" textLength="136.70" lengthAdjust="spacingAndGlyphs">bears the full risk from there to the destination.</text>
<text x="608.00" y="176.20" font-size="6.8" transform="rotate(0.03,608.00,176.20)" stroke="#262626" stroke-width="0.1" fill="#262626" textLength="268.50" lengthAdjust="spacingAndGlyphs">Seller is responsible for delivery to the custody of the carrier, which is provided by the buyer.</text>
<text x="608.00" y="184.50" font-size="6.8" transform="rotate(0.03,608.00,184.50)" stroke="#262626" stroke-width="0.1" fill="#262626" textLength="153.10" lengthAdjust="spacingAndGlyphs">Risk is transferred as soon as loading has taken place.</text>
<text x="607.00" y="215.00" font-size="6.8" transform="rotate(0.03,607.00,215.00)" stroke="#262626" stroke-width="0.1" fill="#262626" textLength="265.30" lengthAdjust="spacingAndGlyphs">Seller delivers the goods to the carrier at an agreed place of delivery and pays for transport</text>
<text x="607.00" y="223.40" font-size="6.8" transform="rotate(0.03,607.00,223.40)" stroke="#262626" stroke-width="0.1" fill="#262626" textLength="266.30" lengthAdjust="spacingAndGlyphs">to the named destination. Risk is transferred at the place of delivery, whereas seller pays for</text>
<text x="607.00" y="231.80" font-size="6.8" transform="rotate(0.03,607.00,231.80)" stroke="#262626" stroke-width="0.1" fill="#262626" textLength="80.70" lengthAdjust="spacingAndGlyphs">transport to the destination.</text>
<text x="607.00" y="258.20" font-size="6.8" transform="rotate(0.03,607.00,258.20)" stroke="#262626" stroke-width="0.1" fill="#262626" textLength="265.30" lengthAdjust="spacingAndGlyphs">Seller delivers the goods to the carrier at an agreed place of delivery and pays for transport</text>
<text x="607.00" y="266.60" font-size="6.8" transform="rotate(0.03,607.00,266.60)" stroke="#262626" stroke-width="0.1" fill="#262626" textLength="265.30" lengthAdjust="spacingAndGlyphs">and insurance to the named destination. Risk is transferred at the place of delivery, whereas</text>
<text x="607.00" y="274.90" font-size="6.8" transform="rotate(0.03,607.00,274.90)" stroke="#262626" stroke-width="0.1" fill="#262626" textLength="167.00" lengthAdjust="spacingAndGlyphs">seller pays for transport and insurance to the destination.</text>
<text x="608.00" y="306.70" font-size="6.8" transform="rotate(0.03,608.00,306.70)" stroke="#262626" stroke-width="0.1" fill="#262626" textLength="253.70" lengthAdjust="spacingAndGlyphs">Seller delivers the goods unloaded at a specified place inside the agreed terminal. Risk is</text>
<text x="608.00" y="314.80" font-size="6.8" transform="rotate(0.03,608.00,314.80)" stroke="#262626" stroke-width="0.1" fill="#262626" textLength="156.40" lengthAdjust="spacingAndGlyphs">transferred as soon as the goods have been unloaded.</text>
<text x="607.00" y="345.90" font-size="6.8" transform="rotate(0.03,607.00,345.90)" stroke="#262626" stroke-width="0.1" fill="#262626" textLength="262.10" lengthAdjust="spacingAndGlyphs">Seller delivers the goods to the disposal of the buyer on the arriving means of transport at</text>
<text x="607.00" y="354.30" font-size="6.8" transform="rotate(0.03,607.00,354.30)" stroke="#262626" stroke-width="0.1" fill="#262626" textLength="265.30" lengthAdjust="spacingAndGlyphs">the agreed place. Seller assumes the risk until the goods are made ready for unloading from</text>
<text x="607.00" y="362.60" font-size="6.8" transform="rotate(0.03,607.00,362.60)" stroke="#262626" stroke-width="0.1" fill="#262626" textLength="91.30" lengthAdjust="spacingAndGlyphs">the arriving means of transport.</text>
<text x="608.00" y="388.70" font-size="6.8" transform="rotate(0.03,608.00,388.70)" stroke="#262626" stroke-width="0.1" fill="#262626" textLength="261.10" lengthAdjust="spacingAndGlyphs">Seller is responsible for bringing the goods to the destination, paying any duty and making</text>
<text x="608.00" y="397.00" font-size="6.8" transform="rotate(0.03,608.00,397.00)" stroke="#262626" stroke-width="0.1" fill="#262626" textLength="262.00" lengthAdjust="spacingAndGlyphs">the goods available to the buyer. Risk is transferred as soon as the buyer has access to the</text>
<text x="608.00" y="405.40" font-size="6.8" transform="rotate(0.03,608.00,405.40)" stroke="#262626" stroke-width="0.1" fill="#262626" textLength="151.50" lengthAdjust="spacingAndGlyphs">goods ready for unloading at the agreed destination.</text>
<text x="608.00" y="436.60" font-size="6.8" transform="rotate(0.03,608.00,436.60)" stroke="#262626" stroke-width="0.1" fill="#262626" textLength="265.90" lengthAdjust="spacingAndGlyphs">Seller is responsible for delivery of the goods at the quay alongside the ship. From this point</text>
<text x="608.00" y="444.90" font-size="6.8" transform="rotate(0.03,608.00,444.90)" stroke="#262626" stroke-width="0.1" fill="#262626" textLength="95.10" lengthAdjust="spacingAndGlyphs">onwards, risk lies with the buyer.</text>
<text x="608.00" y="480.40" font-size="6.8" transform="rotate(0.03,608.00,480.40)" stroke="#262626" stroke-width="0.1" fill="#262626" textLength="266.60" lengthAdjust="spacingAndGlyphs">Seller is responsible for delivery of the goods loaded on board the ship. Risk is transferred as</text>
<text x="608.00" y="488.70" font-size="6.8" transform="rotate(0.03,608.00,488.70)" stroke="#262626" stroke-width="0.1" fill="#262626" textLength="158.00" lengthAdjust="spacingAndGlyphs">soon as the goods have been set down inside the ship.</text>
<text x="608.00" y="524.50" font-size="6.8" transform="rotate(0.03,608.00,524.50)" stroke="#262626" stroke-width="0.1" fill="#262626" textLength="258.80" lengthAdjust="spacingAndGlyphs">Seller covers cost of freight, duty unpaid, to the named port of destination. Risk is trans-</text>
<text x="608.00" y="532.80" font-size="6.8" transform="rotate(0.03,608.00,532.80)" stroke="#262626" stroke-width="0.1" fill="#262626" textLength="184.70" lengthAdjust="spacingAndGlyphs">ferred as soon as the goods have been set down inside the ship.</text>
<text x="608.00" y="567.20" font-size="6.8" transform="rotate(0.03,608.00,567.20)" stroke="#262626" stroke-width="0.1" fill="#262626" textLength="260.10" lengthAdjust="spacingAndGlyphs">Seller covers cost of insurance and freight, duty unpaid, to the named port of destination.</text>
<text x="608.00" y="575.70" font-size="6.8" transform="rotate(0.03,608.00,575.70)" stroke="#262626" stroke-width="0.1" fill="#262626" textLength="219.20" lengthAdjust="spacingAndGlyphs">Risk is transferred as soon as the goods have been set down inside the ship.</text>
<rect x="709.50" y="50.60" width="12.80" height="12.90" fill="#65a1d1" stroke="#3f7ec0" stroke-width="0.8"/>
<rect x="766.30" y="50.60" width="13.00" height="12.90" fill="#ffc809" stroke="#f6bb00" stroke-width="0.8"/>
<rect x="812.20" y="50.90" width="13.00" height="12.60" fill="#f47a22" stroke="#ef5f00" stroke-width="0.8"/>
<rect x="708.90" y="72.20" width="13.30" height="13.40" fill="#fcdcc9"/>
<rect x="811.80" y="72.80" width="13.70" height="13.20" fill="#d8e5f1"/>
<text x="726.10" y="60.90" font-size="9.2" transform="rotate(0.03,726.10,60.90)" stroke="#111" stroke-width="0.22" font-weight="bold" fill="#111" textLength="28.90" lengthAdjust="spacingAndGlyphs">COSTS</text>
<text x="782.80" y="60.90" font-size="9.2" transform="rotate(0.03,782.80,60.90)" stroke="#111" stroke-width="0.22" font-weight="bold" fill="#111" textLength="19.40" lengthAdjust="spacingAndGlyphs">RISK</text>
<text x="828.80" y="61.00" font-size="9.2" transform="rotate(0.03,828.80,61.00)" stroke="#111" stroke-width="0.22" font-weight="bold" fill="#111" textLength="51.00" lengthAdjust="spacingAndGlyphs">INSURANCE</text>
<text x="726.70" y="79.20" font-size="9.2" transform="rotate(0.03,726.70,79.20)" stroke="#111" stroke-width="0.22" font-weight="bold" fill="#111" textLength="54.20" lengthAdjust="spacingAndGlyphs">All modes of</text>
<text x="726.70" y="88.30" font-size="9.2" transform="rotate(0.03,726.70,88.30)" stroke="#111" stroke-width="0.22" font-weight="bold" fill="#111" textLength="41.10" lengthAdjust="spacingAndGlyphs">transport</text>
<text x="828.80" y="80.20" font-size="9.2" transform="rotate(0.03,828.80,80.20)" stroke="#111" stroke-width="0.22" font-weight="bold" fill="#111" textLength="61.20" lengthAdjust="spacingAndGlyphs">Sea and inland</text>
<text x="828.80" y="88.80" font-size="9.2" transform="rotate(0.03,828.80,88.80)" stroke="#111" stroke-width="0.22" font-weight="bold" fill="#111" textLength="47.40" lengthAdjust="spacingAndGlyphs">waterways</text>
<g fill="#032567" stroke="#020d4c" stroke-width="0.45">
<path transform="translate(0.00,0)" d="M95.1,111.9 V94.2 L107,100.4 V94.2 L119.2,100.4 V94.2 L131.1,100.4 V82 H136.5 V111.9 Z"/>
<path transform="translate(377.90,0)" d="M95.1,111.9 V94.2 L107,100.4 V94.2 L119.2,100.4 V94.2 L131.1,100.4 V82 H136.5 V111.9 Z"/>
<g transform="translate(0.00,0)"><rect x="141.2" y="90.4" width="32.5" height="14.4"/><path d="M175.1,109.3 V94.9 H181.9 L184.7,99.6 V109.3 Z"/><path d="M177.2,96.4 H181.2 L183.3,100.3 V101.6 H177.2 Z" fill="#fff" stroke="none"/><rect x="158.6" y="106.2" width="15" height="3.2" rx="1.6"/><g stroke="#fff" stroke-width="0.8"><circle cx="147" cy="108.6" r="3.2"/><circle cx="154.2" cy="108.6" r="3.2"/><circle cx="177.7" cy="108.6" r="3.2"/></g></g>
<g transform="translate(282.60,0)"><rect x="141.2" y="90.4" width="32.5" height="14.4"/><path d="M175.1,109.3 V94.9 H181.9 L184.7,99.6 V109.3 Z"/><path d="M177.2,96.4 H181.2 L183.3,100.3 V101.6 H177.2 Z" fill="#fff" stroke="none"/><rect x="158.6" y="106.2" width="15" height="3.2" rx="1.6"/><g stroke="#fff" stroke-width="0.8"><circle cx="147" cy="108.6" r="3.2"/><circle cx="154.2" cy="108.6" r="3.2"/><circle cx="177.7" cy="108.6" r="3.2"/></g></g>
<g transform="translate(0.00,0)"><path d="M187.2,94.6 L210.2,77.9 L232.9,94.6 H227.8 V111.6 H192.8 V94.6 Z"/><circle cx="200.2" cy="98.1" r="2.2" fill="none" stroke="#fff" stroke-width="1"/><path d="M198.9,99.6 L201.5,96.6" stroke="#fff" stroke-width="0.6"/><text x="203.3" y="100.2" font-size="5.4" font-weight="bold" fill="#fff" stroke="none" textLength="19.8" lengthAdjust="spacingAndGlyphs">NSHIP</text><text x="198" y="104.1" font-size="2.4" font-weight="bold" fill="#d0d5e6" stroke="none" textLength="24.9" lengthAdjust="spacing">LOGISTICS</text></g>
<g transform="translate(184.00,0)"><path d="M187.2,94.6 L210.2,77.9 L232.9,94.6 H227.8 V111.6 H192.8 V94.6 Z"/><circle cx="200.2" cy="98.1" r="2.2" fill="none" stroke="#fff" stroke-width="1"/><path d="M198.9,99.6 L201.5,96.6" stroke="#fff" stroke-width="0.6"/><text x="203.3" y="100.2" font-size="5.4" font-weight="bold" fill="#fff" stroke="none" textLength="19.8" lengthAdjust="spacingAndGlyphs">NSHIP</text><text x="198" y="104.1" font-size="2.4" font-weight="bold" fill="#d0d5e6" stroke="none" textLength="24.9" lengthAdjust="spacing">LOGISTICS</text></g>
<g><rect x="239" y="64.2" width="15.2" height="17.2"/><path d="M254,69.6 L266.8,64.4 L267.1,65.6 L254,77 Z"/><rect x="242.2" y="81" width="7.6" height="27"/><rect x="237.4" y="107.1" width="25.6" height="5.4"/><g fill="#fff" stroke="none"><rect x="241.1" y="66.7" width="3" height="3.8"/><rect x="245.3" y="66.7" width="2.8" height="3.8"/><rect x="249.5" y="66.7" width="3.2" height="3.8"/></g><rect x="266.1" y="65" width="0.6" height="13.3" fill="#5a6a90" stroke="none"/><rect x="264.1" y="78.1" width="4.8" height="4.6"/></g>
<g transform="translate(605.3,0) scale(-1,1)"><rect x="239" y="64.2" width="15.2" height="17.2"/><path d="M254,69.6 L266.8,64.4 L267.1,65.6 L254,77 Z"/><rect x="242.2" y="81" width="7.6" height="27"/><rect x="237.4" y="107.1" width="25.6" height="5.4"/><g fill="#fff" stroke="none"><rect x="241.1" y="66.7" width="3" height="3.8"/><rect x="245.3" y="66.7" width="2.8" height="3.8"/><rect x="249.5" y="66.7" width="3.2" height="3.8"/></g><rect x="266.1" y="65" width="0.6" height="13.3" fill="#5a6a90" stroke="none"/><rect x="264.1" y="78.1" width="4.8" height="4.6"/></g>
<g><rect x="284.7" y="77.4" width="1.4" height="5"/><rect x="270.2" y="82.1" width="19.8" height="4.8" rx="1"/><rect x="271.3" y="86.5" width="17.4" height="4.5"/><path d="M269.8,91 H290.3 L289.8,92.8 L285.1,110.1 H275 L270.3,92.8 Z"/><g fill="#fff" stroke="none"><rect x="271.6" y="83.3" width="2.9" height="1.9" rx="0.5"/><rect x="275.4" y="83.3" width="2.9" height="1.9" rx="0.5"/><rect x="279.2" y="83.3" width="2.9" height="1.9" rx="0.5"/><rect x="283" y="83.3" width="2.9" height="1.9" rx="0.5"/><rect x="286.8" y="83.3" width="2.6" height="1.9" rx="0.5"/></g><g stroke="#8a94b4" stroke-width="0.9" fill="none"><path d="M280.1,88.6 V110"/><path d="M270.6,91.6 L280.1,88.6 L289.6,91.6"/></g></g>
<g transform="translate(605.3,0) scale(-1,1)"><rect x="284.7" y="77.4" width="1.4" height="5"/><rect x="270.2" y="82.1" width="19.8" height="4.8" rx="1"/><rect x="271.3" y="86.5" width="17.4" height="4.5"/><path d="M269.8,91 H290.3 L289.8,92.8 L285.1,110.1 H275 L270.3,92.8 Z"/><g fill="#fff" stroke="none"><rect x="271.6" y="83.3" width="2.9" height="1.9" rx="0.5"/><rect x="275.4" y="83.3" width="2.9" height="1.9" rx="0.5"/><rect x="279.2" y="83.3" width="2.9" height="1.9" rx="0.5"/><rect x="283" y="83.3" width="2.9" height="1.9" rx="0.5"/><rect x="286.8" y="83.3" width="2.6" height="1.9" rx="0.5"/></g><g stroke="#8a94b4" stroke-width="0.9" fill="none"><path d="M280.1,88.6 V110"/><path d="M270.6,91.6 L280.1,88.6 L289.6,91.6"/></g></g>
<rect x="262" y="109.9" width="81" height="2.6"/>
<path d="M287.8,59.8 L295.6,68.8 H316 Q319.8,69.2 319.8,71.2 Q319.6,73.4 316.5,73.8 L306,74.6 L297,73.9 L289.4,71.8 Z"/>
<path d="M295.8,62.2 L297.4,62.2 L307.2,69 H300.6 Z"/>
<path d="M301.2,73.6 L310.2,73.4 L298,82 L296.4,82 Z"/>
<g fill="#fff" stroke="none"><rect x="301.1" y="70.0" width="1.8" height="1.8"/><rect x="305.1" y="70.0" width="1.8" height="1.8"/><rect x="309.1" y="70.0" width="1.8" height="1.8"/><rect x="313.1" y="70.0" width="1.8" height="1.8"/><path d="M316.7,70 H318.4 L319,71.8 H316.7 Z"/></g>
</g>
</svg></body></html>
